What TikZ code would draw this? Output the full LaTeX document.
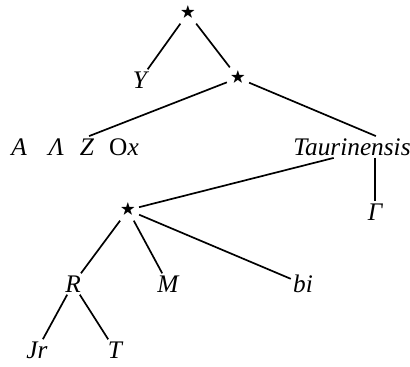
\documentclass[tikz,border=0pt]{standalone}
\usepackage{amssymb}
\usepackage{fontspec}
\newfontfamily\taxonfont{Liberation Serif}
\usepackage{tikz}
\tikzset{taxon/.style = {inner sep = 1.5pt, font = \fontsize{18}{20}\selectfont\taxonfont\itshape}}
\tikzset{knot/.style = {inner sep = 2.5pt, font = \fontsize{11}{12}\selectfont}}
\tikzset{branch/.style = {line width = 1.2pt}}

\begin{document}
\begin{tikzpicture}[x = 0.025cm, y = -0.025cm]
			\useasboundingbox (0, 0) rectangle (410, 367);
			\node[knot] (a) at (188, 13) {$\bigstar$};
			\node[taxon] (b) at (140, 80) {Y};
			\node[knot] (c) at (238, 78) {$\bigstar$};
			\node[taxon] (d) at (75, 147) {A\hspace{0.87em}Λ\hspace{0.63em}Z\hspace{0.6em}\upshape O\itshape x};
			\node[taxon] (e) at (352, 147) {Taurinensis};
			\node[knot] (f) at (128, 210) {$\bigstar$};
			\node[taxon] (g) at (375, 212) {Γ};
			\node[taxon] (h) at (73, 284) {R};
			\node[taxon] (i) at (168, 284) {M};
			\node[taxon] (j) at (303, 284) {bi};
			\node[taxon] (k) at (37, 350) {Jr};
			\node[taxon] (l) at (115, 350) {T};

			\draw[branch] (a) to (b);
			\draw[branch] (a) to (c);
			\draw[branch] (c) to ([xshift = 10pt]d.north);
			\draw[branch] (c) to ([xshift = 17pt]e.north);
			\draw[branch] ([xshift = -13pt]e.south) to (f);
			\draw[branch] (g.north |- e.south) to (g);
			\draw[branch] (f) to (h);
			\draw[branch] (f) to (i);
			\draw[branch] (f) to (j);
			\draw[branch] (h) to (k);
			\draw[branch] (h) to (l);
		\end{tikzpicture}
\end{document}
